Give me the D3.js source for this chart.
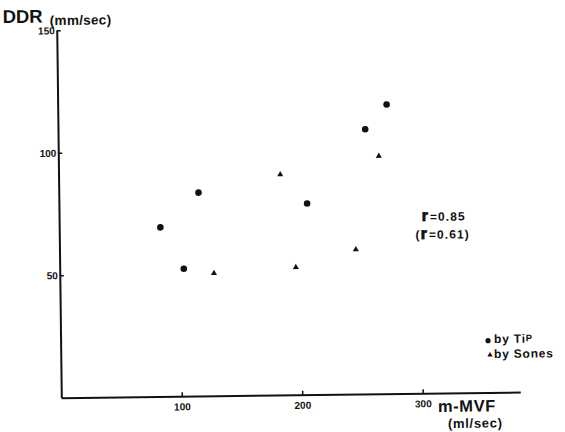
<!DOCTYPE html>
<html>
<head>
<meta charset="utf-8">
<script src="https://cdn.jsdelivr.net/npm/d3@7"></script>
<style>
  html, body { margin: 0; padding: 0; background: #fff; }
  svg { display: block; }
  text { font-family: "Liberation Sans", Arial, sans-serif; font-weight: bold; fill: #111; }
</style>
</head>
<body>
<svg id="chart" width="565" height="432"></svg>
<script>
// ---- data ----
const xTicks = [100, 200, 300];
const yTicks = [50, 100, 150];
const tipX = [84, 103, 116, 206, 255, 273];
const tipY = [69, 52, 83, 78, 108, 118];
const sonesX = [128, 184, 196, 246, 266];
const sonesY = [50, 90, 52, 59, 97];
const xLabel = "m-MVF";
const xUnit = "(ml/sec)";
const yLabel = "DDR";
const yUnit = "(mm/sec)";

const svg = d3.select("#chart");
// the scanned figure is slightly rotated
const g = svg.append("g").attr("transform", "translate(61.3,397.7) rotate(-0.71)");

const x = d3.scaleLinear().domain([0, 381]).range([0, 459]);
const y = d3.scaleLinear().domain([0, 150]).range([0, -367.5]);

const xAxis = g.append("g")
  .call(d3.axisBottom(x).tickValues(xTicks).tickSizeInner(-4).tickSizeOuter(0).tickPadding(7));
const yAxis = g.append("g")
  .call(d3.axisLeft(y).tickValues(yTicks).tickSizeInner(-4).tickSizeOuter(0).tickPadding(2));

[xAxis, yAxis].forEach(a => {
  a.select(".domain").attr("stroke", "#111").attr("stroke-width", 2);
  a.selectAll(".tick line").attr("stroke", "#111").attr("stroke-width", 1.5);
  a.selectAll(".tick text").attr("font-size", 10).attr("fill", "#111")
    .style("font-family", "Liberation Sans, Arial, sans-serif").style("font-weight", "bold");
});
yAxis.selectAll(".tick text").attr("dy", "0.35em");

// axis titles
g.append("text").attr("x", -54).attr("y", -375.3).attr("font-size", 18.5).text(yLabel);
g.append("text").attr("x", -6.9).attr("y", -372.7).attr("font-size", 13.5)
  .attr("letter-spacing", 0.3).text(yUnit);
g.append("text").attr("x", 376.5).attr("y", 19).attr("font-size", 16.5)
  .attr("letter-spacing", 0.6).text(xLabel);
g.append("text").attr("x", 386.3).attr("y", 35.1).attr("font-size", 13)
  .attr("letter-spacing", 0.7).text(xUnit);

// data points
g.selectAll("circle.tip").data(tipX.map((v, i) => [v, tipY[i]])).join("circle")
  .attr("class", "tip")
  .attr("cx", d => x(d[0])).attr("cy", d => y(d[1])).attr("r", 3.3).attr("fill", "#111");

const tri = d3.symbol().type(d3.symbolTriangle).size(16);
g.selectAll("path.sones").data(sonesX.map((v, i) => [v, sonesY[i]])).join("path")
  .attr("class", "sones")
  .attr("d", tri)
  .attr("transform", d => `translate(${x(d[0])},${y(d[1])})`)
  .attr("fill", "#111");

// correlation annotations
const r1 = g.append("text").attr("x", 362.6).attr("y", -172.2).attr("font-size", 12).attr("letter-spacing", 1.1);
r1.append("tspan").attr("font-size", 16).attr("letter-spacing", 0)
  .attr("stroke", "#111").attr("stroke-width", 0.8).text("r");
r1.append("tspan").attr("dx", 2).text("=0.85");
const r2 = g.append("text").attr("x", 356.2).attr("y", -154.3).attr("font-size", 12).attr("letter-spacing", 1.1);
r2.append("tspan").text("(");
r2.append("tspan").attr("font-size", 16).attr("letter-spacing", 0)
  .attr("stroke", "#111").attr("stroke-width", 0.8).text("r");
r2.append("tspan").attr("dx", 2).text("=0.61)");

// legend
g.append("circle").attr("cx", 427.4).attr("cy", -51.7).attr("r", 2.6).attr("fill", "#111");
const l1 = g.append("text").attr("x", 433.4).attr("y", -49.3).attr("font-size", 12).attr("letter-spacing", 0.8);
l1.append("tspan").text("by Ti");
l1.append("tspan").attr("font-size", 9.5).attr("dy", -1.5).text("P");
g.append("path").attr("d", d3.symbol().type(d3.symbolTriangle).size(12))
  .attr("transform", "translate(429.2,-37.4)").attr("fill", "#111");
g.append("text").attr("x", 433.2).attr("y", -34.3).attr("font-size", 12).attr("letter-spacing", 0.8)
  .text("by Sones");
</script>
</body>
</html>
